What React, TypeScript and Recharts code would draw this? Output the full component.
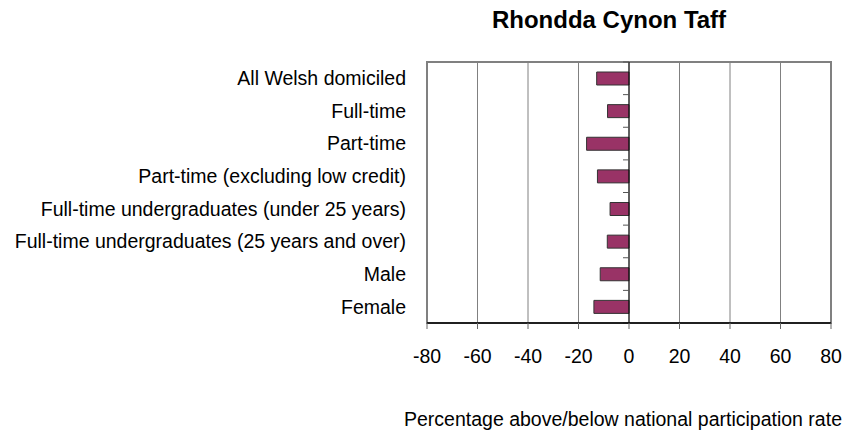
import React from "react";
import {
  BarChart,
  Bar,
  XAxis,
  YAxis,
  CartesianGrid,
  ReferenceLine,
  ReferenceArea,
  Label,
} from "recharts";

const categories = [
  "All Welsh domiciled",
  "Full-time",
  "Part-time",
  "Part-time (excluding low credit)",
  "Full-time undergraduates (under 25 years)",
  "Full-time undergraduates (25 years and over)",
  "Male",
  "Female",
];
const values = [-12.8, -8.5, -16.8, -12.5, -7.5, -8.6, -11.4, -13.9];
const xTicks = [-80, -60, -40, -20, 0, 20, 40, 60, 80];
const title = "Rhondda Cynon Taff";
const xLabel = "Percentage above/below national participation rate";

const data = categories.map((name, i) => ({ name, value: values[i] }));

const FONT = "'Liberation Sans', Arial, sans-serif";

const ZeroLine = (props: any) => {
  const { x1, y1, x2, y2 } = props;
  const n = categories.length;
  const step = (y2 - y1) / n;
  const ticks = [];
  for (let i = 0; i <= n; i++) {
    const y = y1 + i * step;
    ticks.push(
      <line key={i} x1={x1 - 6} x2={x1} y1={y} y2={y} stroke="#555" strokeWidth={1} />
    );
  }
  return (
    <g>
      <line x1={x1} y1={y1} x2={x2} y2={y2} stroke="#000" strokeWidth={1} />
      {ticks}
    </g>
  );
};

export default function App() {
  return (
    <div style={{ position: "absolute", left: 0, top: 0, width: 844, height: 430, fontFamily: FONT }}>
      <div
        style={{
          position: "absolute",
          left: 409,
          width: 400,
          top: 8,
          textAlign: "center",
          fontWeight: "bold",
          fontSize: 24,
          lineHeight: "24px",
          color: "#000",
          fontFamily: FONT,
        }}
      >
        {title}
      </div>
      <BarChart
        width={844}
        height={430}
        data={data}
        layout="vertical"
        margin={{ top: 62, right: 13, bottom: 0, left: 0 }}
        style={{ fontFamily: FONT }}
      >
        <ReferenceArea
          x1={-80}
          x2={80}
          fill="none"
          stroke="#808080"
          strokeWidth={2}
          ifOverflow="visible"
        />
        <CartesianGrid horizontal={false} stroke="#808080" strokeWidth={1} />
        <XAxis
          type="number"
          domain={[-80, 80]}
          ticks={xTicks}
          interval={0}
          height={107}
          axisLine={{ stroke: "#000", strokeWidth: 1.5 }}
          tickLine={{ stroke: "#666" }}
          tickSize={6}
          tickMargin={20}
          tick={{ fill: "#000", fontSize: 19.5, fontFamily: FONT }}
        >
          <Label
            content={(p: any) => {
              const vb = p.viewBox;
              return (
                <text
                  x={vb.x + vb.width / 2 - 6}
                  y={426}
                  textAnchor="middle"
                  fontSize={19.5}
                  fill="#000"
                  fontFamily={FONT}
                >
                  {xLabel}
                </text>
              );
            }}
          />
        </XAxis>
        <YAxis
          type="category"
          dataKey="name"
          width={427}
          axisLine={false}
          tickLine={false}
          tickSize={0}
          tickMargin={21}
          interval={0}
          tick={{ fill: "#000", fontSize: 19.5, fontFamily: FONT }}
        />
        <Bar
          dataKey="value"
          fill="#993366"
          stroke="#333"
          strokeWidth={1}
          barSize={13}
          isAnimationActive={false}
        />
        <ReferenceLine x={0} shape={ZeroLine} />
      </BarChart>
    </div>
  );
}
